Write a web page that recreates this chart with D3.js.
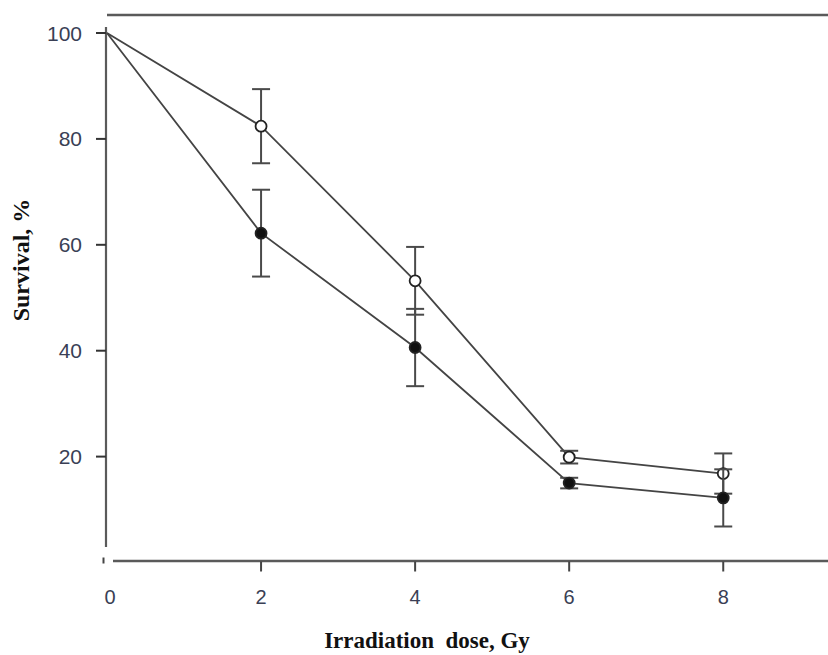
<!DOCTYPE html>
<html><head><meta charset="utf-8">
<script src="https://cdn.jsdelivr.net/npm/d3@7"></script>
<style>body{margin:0;background:#fff}svg{display:block}</style>
</head><body>
<svg id="c" width="828" height="655"></svg>
<script>
const doses = [0, 2, 4, 6, 8];
const openMean = [100, 82.4, 53.2, 19.9, 16.8];
const openErr  = [0, 7.0, 6.4, 1.2, 3.8];
const filledMean = [100, 62.2, 40.6, 15.0, 12.2];
const filledErr  = [0, 8.2, 7.3, 1.0, 5.4];
const xTicks = [0, 2, 4, 6, 8];
const yTicks = [20, 40, 60, 80, 100];

const svg = d3.select("#c");
const x = d3.scaleLinear().domain([0, 9.36]).range([107, 828]);
const y = d3.scaleLinear().domain([0, 100]).range([562.5, 33]);
const ink = "#444";
const tickFont = "Liberation Sans, Arial, sans-serif";

// top border
svg.append("line").attr("x1",107).attr("x2",828).attr("y1",15).attr("y2",15)
  .attr("stroke","#5a5a5a").attr("stroke-width",2.5);

// y axis
svg.append("line").attr("x1",106).attr("x2",106).attr("y1",27).attr("y2",547)
  .attr("stroke","#5a5a5a").attr("stroke-width",2.2);
const yg = svg.append("g");
yTicks.forEach(t=>{
  yg.append("line").attr("x1",96).attr("x2",106).attr("y1",y(t)).attr("y2",y(t))
    .attr("stroke","#333").attr("stroke-width",2);
  yg.append("text").attr("x",82).attr("y",y(t)).attr("dy","0.36em")
    .attr("text-anchor","end").attr("font-family",tickFont)
    .attr("font-size",21).attr("fill","#3a3f55").text(t);
});

// x axis
svg.append("line").attr("x1",113).attr("x2",828).attr("y1",y(0)-1.5).attr("y2",y(0)-1.5)
  .attr("stroke","#5a5a5a").attr("stroke-width",2.5);
svg.append("line").attr("x1",103.5).attr("x2",103.5).attr("y1",y(0)-5).attr("y2",y(0)+1)
  .attr("stroke","#444").attr("stroke-width",2);
const xg = svg.append("g");
xTicks.forEach(t=>{
  if (t>0) xg.append("line").attr("x1",x(t)).attr("x2",x(t)).attr("y1",y(0)-1).attr("y2",y(0)+9)
    .attr("stroke","#444").attr("stroke-width",2);
  xg.append("text").attr("x", t===0 ? x(t)+3 : x(t)).attr("y",597).attr("dy","0.36em")
    .attr("text-anchor","middle").attr("font-family",tickFont)
    .attr("font-size",20).attr("fill","#3a3f55").text(t);
});

// axis titles
svg.append("text").attr("transform","translate(29,260) rotate(-90)")
  .attr("text-anchor","middle").attr("font-family","Liberation Serif, Times New Roman, serif")
  .attr("font-weight","bold").attr("font-size",24).attr("fill","#111").text("Survival, %");
svg.append("text").attr("x",427).attr("y",648)
  .attr("text-anchor","middle").attr("font-family","Liberation Serif, Times New Roman, serif")
  .attr("font-weight","bold").attr("font-size",23).attr("fill","#111")
  .attr("xml:space","preserve").text("Irradiation  dose, Gy");

const line = d3.line().x(d=>x(d[0])).y(d=>y(d[1]));
function drawSeries(means, errs, filled){
  const pts = doses.map((d,i)=>[d, means[i]]);
  svg.append("path").attr("d", line(pts)).attr("fill","none")
    .attr("stroke",ink).attr("stroke-width",1.8);
  const g = svg.append("g");
  doses.forEach((d,i)=>{
    if (errs[i] > 0) {
      const cx = x(d), top = y(means[i]+errs[i]), bot = y(means[i]-errs[i]);
      g.append("line").attr("x1",cx).attr("x2",cx).attr("y1",top).attr("y2",bot)
        .attr("stroke","#4a4a4a").attr("stroke-width",2);
      [top, bot].forEach(yy=>g.append("line").attr("x1",cx-9).attr("x2",cx+9)
        .attr("y1",yy).attr("y2",yy).attr("stroke","#4a4a4a").attr("stroke-width",2));
    }
  });
  doses.forEach((d,i)=>{
    if (i===0) return;
    g.append("circle").attr("cx",x(d)).attr("cy",y(means[i])).attr("r",5.5)
      .attr("fill", filled ? "#111" : "#fff").attr("stroke","#222").attr("stroke-width",1.8);
  });
}
drawSeries(openMean, openErr, false);
drawSeries(filledMean, filledErr, true);
</script>
</body></html>
